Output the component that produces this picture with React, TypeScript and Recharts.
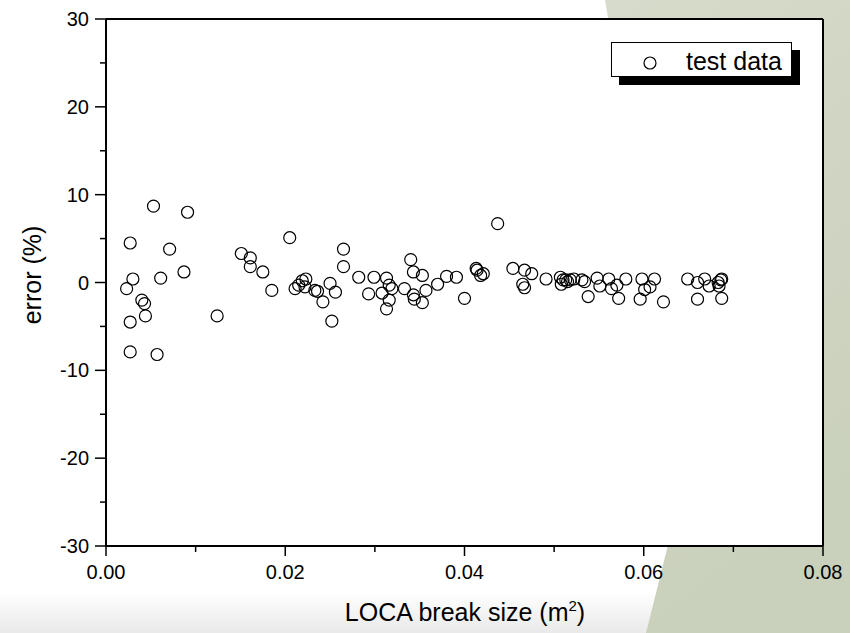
import React from 'react';
import {
  ScatterChart,
  Scatter,
  XAxis,
  YAxis,
  CartesianGrid,
} from 'recharts';

// LOCA break size (m^2) and prediction error (%)
const breakSize = [
  0.0023, 0.0027, 0.003, 0.0027, 0.0027, 0.004, 0.0043, 0.0044, 0.0053, 0.0057,
  0.0061, 0.0071, 0.0087, 0.0091, 0.0124, 0.0151, 0.0161, 0.0161, 0.0175, 0.0185,
  0.0205, 0.0211, 0.0215, 0.0219, 0.0223, 0.0222, 0.0233, 0.0236, 0.0242, 0.025,
  0.0252, 0.0256, 0.0265, 0.0265, 0.0282, 0.0293, 0.0299, 0.0308, 0.0313, 0.0313,
  0.0316, 0.0316, 0.0319, 0.0333, 0.034, 0.0343, 0.0343, 0.0344, 0.0353, 0.0353,
  0.0357, 0.037, 0.038, 0.0391, 0.04, 0.0413, 0.0414, 0.0418, 0.0421, 0.0437,
  0.0454, 0.0465, 0.0467, 0.0467, 0.0475, 0.0491, 0.0507, 0.0508, 0.051, 0.0513,
  0.0515, 0.0518, 0.0522, 0.0531, 0.0534, 0.0538, 0.0548, 0.0551, 0.0561, 0.0564,
  0.057, 0.0572, 0.058, 0.0596, 0.0598, 0.0601, 0.0607, 0.0612, 0.0622, 0.0649,
  0.066, 0.066, 0.0668, 0.0673, 0.0683, 0.0684, 0.0686, 0.0687, 0.0687,
];

const errorPct = [
  -0.7, 4.5, 0.4, -4.5, -7.9, -2.0, -2.4, -3.8, 8.7, -8.2,
  0.5, 3.8, 1.2, 8.0, -3.8, 3.3, 2.8, 1.8, 1.2, -0.9,
  5.1, -0.7, -0.3, 0.2, 0.4, -0.5, -0.9, -1.0, -2.2, -0.1,
  -4.4, -1.1, 3.8, 1.8, 0.6, -1.3, 0.6, -1.2, 0.5, -3.0,
  -2.0, -0.3, -0.7, -0.7, 2.6, 1.2, -1.4, -1.9, 0.8, -2.3,
  -0.9, -0.2, 0.7, 0.6, -1.8, 1.6, 1.4, 0.8, 1.0, 6.7,
  1.6, -0.2, -0.6, 1.4, 1.0, 0.4, 0.6, -0.2, 0.3, 0.3,
  0.1, 0.3, 0.4, 0.3, 0.1, -1.6, 0.5, -0.4, 0.4, -0.7,
  -0.3, -1.8, 0.4, -1.9, 0.4, -0.8, -0.5, 0.4, -2.2, 0.4,
  -1.9, 0.0, 0.4, -0.4, 0.0, -0.4, 0.3, 0.4, -1.8,
];

const xTicks = [0, 0.01, 0.02, 0.03, 0.04, 0.05, 0.06, 0.07, 0.08];
const yTicks = [-30, -25, -20, -15, -10, -5, 0, 5, 10, 15, 20, 25, 30];

const seriesName = 'test data';

const data = breakSize.map((x, i) => ({ x, y: errorPct[i] }));

const FONT = '"Liberation Sans", Arial, sans-serif';

const isMajorX = (v: number) => Math.round(v * 100) % 2 === 0;
const isMajorY = (v: number) => Math.round(v) % 10 === 0;

const BottomTick = (props: any) => {
  const { x, y, payload } = props;
  const major = isMajorX(payload.value);
  return (
    <g>
      <line x1={x} x2={x} y1={y} y2={y + (major ? 10 : 6)} stroke="#000" strokeWidth={1.5} />
      {major && (
        <text x={x} y={y + 33} textAnchor="middle" fontFamily={FONT} fontSize={20} fill="#000">
          {payload.value.toFixed(2)}
        </text>
      )}
    </g>
  );
};

const TopTick = (props: any) => {
  const { x, y } = props;
  return <line x1={x} x2={x} y1={y} y2={y + 4} stroke="#000" strokeWidth={1} />;
};

const LeftTick = (props: any) => {
  const { x, y, payload } = props;
  const major = isMajorY(payload.value);
  return (
    <g>
      <line x1={x} x2={x - (major ? 11 : 6)} y1={y} y2={y} stroke="#000" strokeWidth={1.5} />
      {major && (
        <text x={x - 17} y={y + 7} textAnchor="end" fontFamily={FONT} fontSize={20} fill="#000">
          {payload.value}
        </text>
      )}
    </g>
  );
};

const RightTick = (props: any) => {
  const { x, y } = props;
  return <line x1={x} x2={x - 3} y1={y} y2={y} stroke="#999" strokeWidth={1} />;
};

const OpenCircle = (props: any) => (
  <circle cx={props.cx} cy={props.cy} r={6} fill="none" stroke="#000" strokeWidth={1.2} />
);

const Backdrop = () => (
  <svg width={850} height={633} style={{ position: 'absolute', left: 0, top: 0 }}>
    <defs>
      <linearGradient id="floor" x1="0" y1="0" x2="0" y2="1">
        <stop offset="0" stopColor="#ffffff" />
        <stop offset="1" stopColor="#e9e9e9" />
      </linearGradient>
      <linearGradient id="green" x1="0" y1="0" x2="0.3" y2="1">
        <stop offset="0" stopColor="#d7dbcb" />
        <stop offset="1" stopColor="#c9d0bb" />
      </linearGradient>
    </defs>
    <rect x={0} y={0} width={850} height={633} fill="#ffffff" />
    <rect x={0} y={592} width={850} height={41} fill="url(#floor)" />
    <path d="M605,0 C640,200 672,420 668,545 L646,633 L850,633 L850,0 Z" fill="url(#green)" />
  </svg>
);

const LegendBox = () => (
  <div style={{ position: 'absolute', left: 611, top: 42 }}>
    <div style={{ position: 'absolute', left: 8, top: 8, width: 181, height: 35, background: '#000' }} />
    <div
      style={{
        position: 'absolute',
        left: 0,
        top: 0,
        width: 179,
        height: 33,
        background: '#fff',
        border: '1px solid #000',
        display: 'flex',
        alignItems: 'center',
      }}
    >
      <svg width={60} height={33}>
        <circle cx={38} cy={20} r={6} fill="none" stroke="#000" strokeWidth={1.2} />
      </svg>
      <span style={{ fontFamily: FONT, fontSize: 25, marginLeft: 14, marginTop: 3, color: '#000' }}>
        {seriesName}
      </span>
    </div>
  </div>
);

export default function App() {
  return (
    <div style={{ position: 'fixed', left: 0, top: 0, width: 850, height: 633, overflow: 'hidden' }}>
      <Backdrop />
      <div style={{ position: 'absolute', left: 0, top: 0 }}>
        <ScatterChart
          width={850}
          height={633}
          margin={{ top: 18, right: 26, bottom: 86, left: 105 }}
        >
          <CartesianGrid stroke="none" fill="#ffffff" fillOpacity={1} />
          <XAxis
            xAxisId="bottom"
            type="number"
            dataKey="x"
            domain={[0, 0.08]}
            ticks={xTicks}
            height={1}
            tickSize={0}
            tickMargin={0}
            tickLine={false}
            tick={<BottomTick />}
            axisLine={{ stroke: '#000', strokeWidth: 2 }}
            allowDataOverflow
          />
          <XAxis
            xAxisId="top"
            orientation="top"
            type="number"
            dataKey="x"
            domain={[0, 0.08]}
            ticks={xTicks}
            height={1}
            tickSize={0}
            tickMargin={0}
            tickLine={false}
            tick={<TopTick />}
            axisLine={{ stroke: '#000', strokeWidth: 2 }}
          />
          <YAxis
            yAxisId="left"
            type="number"
            dataKey="y"
            domain={[-30, 30]}
            ticks={yTicks}
            width={1}
            tickSize={0}
            tickMargin={0}
            tickLine={false}
            tick={<LeftTick />}
            axisLine={{ stroke: '#000', strokeWidth: 2 }}
            allowDataOverflow
          />
          <YAxis
            yAxisId="right"
            orientation="right"
            type="number"
            dataKey="y"
            domain={[-30, 30]}
            ticks={yTicks}
            width={1}
            tickSize={0}
            tickMargin={0}
            tickLine={false}
            tick={<RightTick />}
            axisLine={{ stroke: '#000', strokeWidth: 2 }}
          />
          <Scatter
            name={seriesName}
            data={data}
            xAxisId="bottom"
            yAxisId="left"
            shape={<OpenCircle />}
            isAnimationActive={false}
          />
        </ScatterChart>
      </div>
      <div
        style={{
          position: 'absolute',
          left: 32,
          top: 275,
          transform: 'translate(-50%, -50%) rotate(-90deg)',
          fontFamily: FONT,
          fontSize: 25,
          whiteSpace: 'nowrap',
          color: '#000',
        }}
      >
        error (%)
      </div>
      <div
        style={{
          position: 'absolute',
          left: 465,
          top: 612,
          transform: 'translate(-50%, -50%)',
          fontFamily: FONT,
          fontSize: 25,
          whiteSpace: 'nowrap',
          color: '#000',
        }}
      >
        LOCA break size (m<sup style={{ fontSize: 15, verticalAlign: 'super', lineHeight: 0 }}>2</sup>)
      </div>
      <LegendBox />
    </div>
  );
}
